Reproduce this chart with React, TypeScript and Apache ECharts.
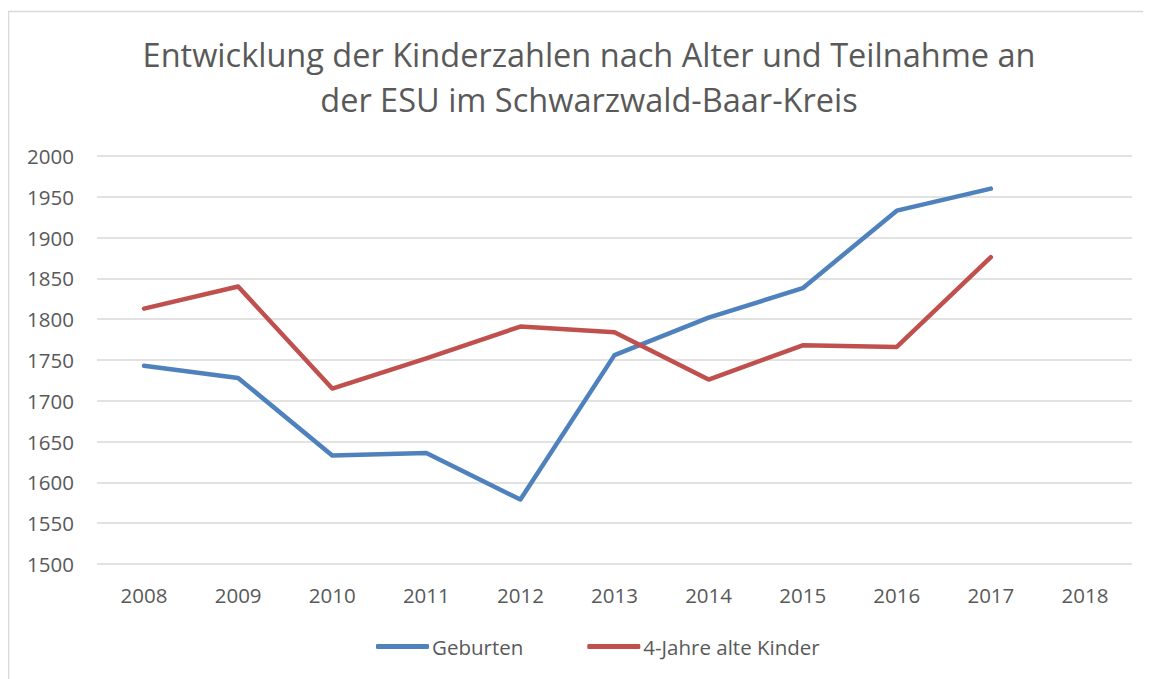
import React, { useEffect, useRef } from "react";
import * as echarts from "echarts";

const years = ["2008", "2009", "2010", "2011", "2012", "2013", "2014", "2015", "2016", "2017", "2018"];
const geburten = [1743, 1728, 1633, 1636, 1579, 1756, 1802, 1838, 1933, 1960, null];
const vierJahre = [1813, 1840, 1715, 1752, 1791, 1784, 1726, 1768, 1766, 1876, null];
const titleText = "Entwicklung der Kinderzahlen nach Alter und Teilnahme an\nder ESU im Schwarzwald-Baar-Kreis";
const seriesNames = ["Geburten", "4-Jahre alte Kinder"];

const FONT = "'Open Sans', 'Noto Sans', sans-serif";
const TEXT = "#595959";

export default function App() {
  const ref = useRef<HTMLDivElement>(null);
  useEffect(() => {
    if (!ref.current) return;
    const chart = echarts.init(ref.current, undefined, { renderer: "svg" });
    chart.setOption({
      animation: false,
      backgroundColor: "#ffffff",
      title: {
        text: titleText,
        left: 576,
        textAlign: "center",
        top: 19,
        textStyle: {
          fontFamily: FONT,
          fontSize: 32.5,
          fontWeight: "normal",
          color: TEXT,
          lineHeight: 45,
        },
      },
      graphic: [
        {
          type: "rect",
          shape: { x: 0.5, y: 3.5, width: 1300, height: 1000 },
          style: { fill: "none", stroke: "#d9d9d9", lineWidth: 1.5 },
          silent: true,
        },
      ],
      legend: {
        data: seriesNames,
        left: 363,
        top: 623,
        itemWidth: 53,
        itemHeight: 5,
        itemGap: 64,
        icon: "roundRect",
        textStyle: { fontFamily: FONT, fontSize: 20.5, color: TEXT, padding: [0, 0, 0, -2] },
      },
      grid: { left: 89, right: 19, top: 148, bottom: 115, containLabel: false },
      xAxis: {
        type: "category",
        data: years,
        boundaryGap: true,
        axisLine: { show: false },
        axisTick: { show: false },
        axisLabel: { fontFamily: FONT, fontSize: 20.5, color: TEXT, margin: 20 },
      },
      yAxis: {
        type: "value",
        min: 1500,
        max: 2000,
        interval: 50,
        axisLine: { show: false },
        axisTick: { show: false },
        axisLabel: {
          fontFamily: FONT,
          fontSize: 20.5,
          color: TEXT,
          margin: 23,
          formatter: (v: number) => String(v),
        },
        splitLine: { lineStyle: { color: "#d9d9d9", width: 1.5 } },
      },
      series: [
        {
          name: seriesNames[0],
          type: "line",
          data: geburten,
          symbol: "none",
          color: "#4f81bd",
          lineStyle: { width: 4.5, color: "#4f81bd", cap: "round", join: "round" },
        },
        {
          name: seriesNames[1],
          type: "line",
          data: vierJahre,
          symbol: "none",
          color: "#c0504d",
          lineStyle: { width: 4.5, color: "#c0504d", cap: "round", join: "round" },
        },
      ],
    });
    return () => chart.dispose();
  }, []);
  return <div ref={ref} style={{ width: 1143, height: 671 }} />;
}
